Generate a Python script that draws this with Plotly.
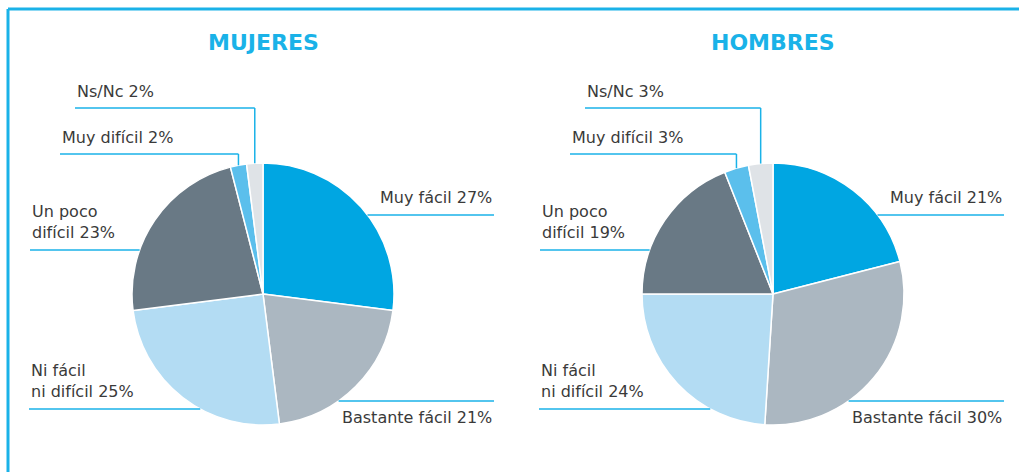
import math
import plotly.graph_objects as go

# Survey answers, listed clockwise from 12 o'clock
categories = ["Muy fácil", "Bastante fácil", "Ni fácil ni difícil",
              "Un poco difícil", "Muy difícil", "Ns/Nc"]
label_text = ["Muy fácil", "Bastante fácil", "Ni fácil<br>ni difícil",
              "Un poco<br>difícil", "Muy difícil", "Ns/Nc"]
mujeres = [27, 21, 25, 23, 2, 2]
hombres = [21, 30, 24, 19, 3, 3]
titles = ["MUJERES", "HOMBRES"]

colors = ["#00A6E2", "#ABB7C1", "#B3DCF3", "#697985", "#5BBFEC", "#DFE3E7"]
ACCENT = "#1AB2E8"
TEXT = "#3A3A3A"
FONT = "DejaVu Sans"

W, H = 1019, 472
R = 131
CY = 294
centers = [263, 773]

fig = go.Figure()

# pixel-space helper axes for leader lines and labels
fig.update_layout(
    xaxis=dict(range=[0, W], visible=False, fixedrange=True),
    yaxis=dict(range=[H, 0], visible=False, fixedrange=True),
)

shapes = []
annotations = []


def line(x0, y0, x1, y1, width=1.5):
    shapes.append(dict(type="line", xref="x", yref="y", x0=x0, y0=y0, x1=x1, y1=y1,
                       line=dict(color=ACCENT, width=width), layer="above"))


def text(x, y, s, xanchor, align, size=16, color=TEXT, weight=400):
    annotations.append(dict(xref="x", yref="y", x=x, y=y, text=s, showarrow=False,
                            xanchor=xanchor, yanchor="middle", align=align,
                            font=dict(family=FONT, size=size, color=color,
                                      weight=weight)))


def edge_x(dy, side):
    return side * math.sqrt(R * R - dy * dy)


for cx, values, title in zip(centers, [mujeres, hombres], titles):
    fig.add_trace(go.Pie(
        values=values, labels=categories, sort=False, direction="clockwise",
        rotation=0, textinfo="none", hoverinfo="label+percent",
        marker=dict(colors=colors, line=dict(color="white", width=1.5)),
        domain=dict(x=[(cx - R) / W, (cx + R) / W],
                    y=[(H - CY - R) / H, (H - CY + R) / H]),
        showlegend=False,
    ))
    text(cx, 42, title, "center", "center", size=22, color=ACCENT, weight=700)

    total = sum(values)
    cum = 0
    mids = []
    for v in values:
        mids.append((cum + v / 2) / total * 2 * math.pi)
        cum += v
    lab = [f"{t} {v}%" for t, v in zip(label_text, values)]

    # Muy fácil: right side, line above the edge
    dy = -79
    line(cx + edge_x(dy, 1), CY + dy, cx + 231, CY + dy)
    text(cx + 231, CY + dy - 18, lab[0], "right", "right")

    # Bastante fácil: right side, text under the line
    dy = 107
    line(cx + edge_x(dy, 1), CY + dy, cx + 231, CY + dy)
    text(cx + 231, CY + dy + 16, lab[1], "right", "right")

    # Ni fácil ni difícil: left side
    dy = 115
    line(cx - 234, CY + dy, cx + edge_x(dy, -1), CY + dy)
    text(cx - 234, CY + dy - 28, lab[2], "left", "left")

    # Un poco difícil: left side
    dy = -44
    line(cx - 233, CY + dy, cx + edge_x(dy, -1), CY + dy)
    text(cx - 233, CY + dy - 28, lab[3], "left", "left")

    # small slices near the top: elbow lines
    for idx, ly, lx in [(4, 154, -203), (5, 108, -188)]:
        ax = cx + R * math.sin(mids[idx])
        ay = CY - R * math.cos(mids[idx])
        line(cx + lx, ly, ax, ly)
        line(ax, ly, ax, ay)
        text(cx + lx, ly - 17, lab[idx], "left", "left")

# frame
line(8, 9, W, 9, width=3)
line(8, 9, 8, H, width=3)

fig.update_layout(
    width=W, height=H, margin=dict(l=0, r=0, t=0, b=0),
    paper_bgcolor="white", plot_bgcolor="white",
    shapes=shapes, annotations=annotations,
)

fig.write_html("out.html")
